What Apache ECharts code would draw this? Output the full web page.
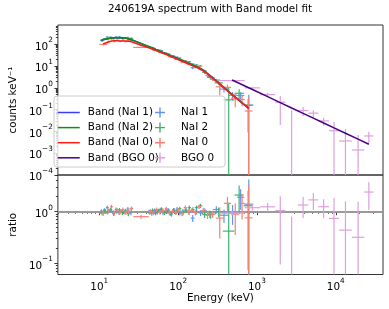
<!DOCTYPE html>
<html><head><meta charset="utf-8">
<script src="https://cdn.jsdelivr.net/npm/echarts@6/dist/echarts.min.js"></script>
<style>html,body{margin:0;padding:0;background:#fff}#c{width:389px;height:309px}</style>
</head><body><div id="c"></div>
<script>
// ---------------- data (energies in keV, counts in counts keV^-1) ----------------
const nai1Lo = [10.2,11.1,12.1,13.2,14.4,15.7,17.1,18.6,20.3,22.1,24.1, 41,44.5,48.3,52.4,56.9,61.8,67.1,72.9,79.2,86,93.4,101,110,120,131,145,162,182,205, 232,275,340,430,560,690];
const nai1Hi = [11.1,12.1,13.2,14.4,15.7,17.1,18.6,20.3,22.1,24.1,26.3, 44.5,48.3,52.4,56.9,61.8,67.1,72.9,79.2,86,93.4,101,110,120,131,145,162,182,205,232, 275,340,430,560,690,900];
const nai1Model = [151,167,180,190,198,199,200,197,193,182,166, 78,69,61.1,54.1,47.8,42.3,37.4,33.1,29.2,25.8,22.8,20.1,17.7,15.4,13.3,11.2,9.3,7.6,5.75, 3.73,2.07,1.03,0.48,0.234,0.115];
const nai1Counts = [154,180,216,200,192,219,190,203,189,204,159, 78,64.2,64.8,53.0,52.6,40.2,38.5,35.7,26.3,27.1,25.5,18.9,18.1,16.6,12.9,8.4,9.3,7.2,5.98, 3.36,2.28,0.88,0.456,0.445,0.161];
const nai1Err = [15,15,20,17,20,20,18,20,19,20,17, 7,6.9,5.5,5.4,4.3,4.2,3.7,3.0,2.9,2.6,2.5,2.0,1.8,1.7,1.5,1.3,1.1,0.9,0.75, 0.56,0.37,0.26,0.19,0.19,0.32];

const nai2Lo = [10.4,11.3,12.3,13.4,14.6,15.9,17.3,18.9,20.6,22.4,24.4, 42,45.5,49.5,54,59,64.5,70.5,77,84,92,100.5,110,120.5,132,146,162,181,203, 232,290,370,520,680];
const nai2Hi = [11.3,12.3,13.4,14.6,15.9,17.3,18.9,20.6,22.4,24.4,26.8, 45.5,49.5,54,59,64.5,70.5,77,84,92,100.5,110,120.5,132,146,162,181,203,232, 290,370,520,680,880];
const nai2Model = [154,169,183,191.5,198,199,200,196.3,192.9,179.6,163, 75.4,66.7,58.7,51.5,45.1,39.5,34.6,30.4,26.6,23.2,20.2,17.6,15.3,13.1,11.2,9.37,7.74,5.82, 3.41,1.69,0.673,0.268,0.122];
const nai2Counts = [146,177,179,211,184,203,216,188,201,165,187, 73.1,70.7,55.2,53.6,50.5,37.9,35.3,28.3,28.7,23.0,23.2,16.7,16.1,15.7,12.3,11.2,10.1,5.12, 3.0,1.69,0.283,0.563,0.159];
const nai2Err = [15,16,18,18,20,19,20,19,19,18,17, 7,6.4,5.5,5,4.3,3.9,3.4,3.0,2.7,2.3,2.1,1.8,1.6,1.5,1.3,1.1,0.95,0.75, 0.5,0.35,0.72,0.3,0.15];

const nai0Lo = [10,12.6,13.7,14.9,16.2,17.6,19.1,20.8,22.6,24.6, 27, 42.5,46.5,51,56,61.5,67.5,74,81,89,97.5,107,117.5,129,142,157,175,196,222, 252,300,380,470,600,700];
const nai0Hi = [12.6,13.7,14.9,16.2,17.6,19.1,20.8,22.6,24.6,27, 42.5, 46.5,51,56,61.5,67.5,74,81,89,97.5,107,117.5,129,142,157,175,196,222,252, 300,380,470,600,700,880];
const nai0Model = [106,128.6,142.4,144.6,143.7,142.8,141.8,140.3,137.3,130, 90, 66.3,58.1,50.8,44.4,38.6,33.6,29.3,25.5,22.2,19.2,16.7,14.4,12.5,10.8,9.15,7.6,6.02,4.3, 2.71,1.49,0.73,0.367,0.202,0.114];
const nai0Counts = [98.6,135,178,137,155,138.5,156,134.7,141.4,149.5, 72, 67.6,55.2,55.9,43.5,40.5,38.6,27.5,26.0,21.5,20.7,15.4,17.3,12.5,11.4,8.8,9.5,6.32,3.66, 2.44,1.12,1.06,0.33,0.293,0.0866];
const nai0Err = [11,13,15,14,15,14,15,14,14,13, 6, 6.5,5.8,5.1,4.4,3.9,3.4,2.9,2.6,2.3,2.0,1.8,1.6,1.4,1.2,1.05,0.9,0.75,0.55, 0.4,0.67,0.35,0.2,0.15,0.29];

const bgoLo = [335,700,1100,1700,2300,3300,4500,6000,8200,11000,16000,23000];
const bgoHi = [700,1100,1700,2300,3300,4500,6000,8200,11000,16000,23000,30000];
const bgoModel = [2.3,0.837,0.394,0.21,0.1196,0.0676,0.0407,0.0244,0.01458,0.00826,0.00442,0.00258];
const bgoCounts = [2.16,1.0,0.49,0.22,-0.03,0.091,0.069,0.0305,0.0108,0.00363,0.00141,0.0062];
const bgoErr = [0.2,0.12,0.1,0.2,0.125,0.04,0.025,0.012,0.016,0.0095,0.0055,0.0034];

const xTickExp = [1,2,3,4];
const y1TickExp = [-4,-3,-2,-1,0,1,2];
const y2TickExp = [-1,0];

// ---------------- settings ----------------
const X_MIN = 0.4753, X_MAX = 4.599;
const Y1_MIN = -4, Y1_MAX = 2.886;
const Y2_MIN = -1.217, Y2_MAX = 0.711;
const FONT = 'DejaVu Sans';
const FS = 10.4;

const lg = v => Math.log10(v);
function minorList(n0, n1, lo, hi) {
  const out = [];
  for (let n = n0; n <= n1; n++) for (let k = 2; k <= 9; k++) {
    const v = lg(k) + n; if (v > lo && v < hi) out.push(v);
  }
  return out;
}
const xMinor = minorList(0, 4, X_MIN, X_MAX);
const y1Minor = minorList(-4, 2, Y1_MIN, Y1_MAX);
const y2Minor = minorList(-2, 0, Y2_MIN, Y2_MAX);

function crossItems(lo, hi, val, err, floor) {
  return lo.map((l, i) => {
    const c = Math.sqrt(l * hi[i]);
    const v = val[i];
    return [lg(c), v > 0 ? lg(v) : floor, l, hi[i], v, err[i]];
  });
}
function ratioItems(lo, hi, counts, err, model, floor) {
  return crossItems(lo, hi, counts.map((c, i) => c / model[i]), err.map((e, i) => e / model[i]), floor);
}
function modelLine(lo, hi, model) {
  return lo.map((l, i) => [lg(Math.sqrt(l * hi[i])), lg(model[i])]);
}
function makeRender(floor) {
  return function (params, api) {
    const cs = params.coordSys;
    const lo = api.value(2), hi = api.value(3), v = api.value(4), e = api.value(5);
    const ly = t => t > 0 ? Math.log10(t) : floor - 5;
    const clampY = y => Math.max(cs.y, Math.min(cs.y + cs.height, y));
    const xc = Math.log10(Math.sqrt(lo * hi));
    const pTop = api.coord([xc, ly(v + e)]);
    const pBot = api.coord([xc, ly(v - e)]);
    const pc = api.coord([xc, ly(v)]);
    const pl = api.coord([Math.log10(lo), ly(v)]);
    const ph = api.coord([Math.log10(hi), ly(v)]);
    const style = { stroke: api.visual('color'), lineWidth: 1.2, fill: null };
    const children = [{ type: 'line', shape: { x1: pc[0], y1: clampY(pTop[1]), x2: pc[0], y2: clampY(pBot[1]) }, style }];
    if (v > 0 && pc[1] >= cs.y && pc[1] <= cs.y + cs.height) {
      children.push({ type: 'line', shape: { x1: Math.max(cs.x, pl[0]), y1: pc[1], x2: Math.min(cs.x + cs.width, ph[0]), y2: pc[1] }, style });
    }
    return { type: 'group', children };
  };
}

const C = {
  nai1: '#6495ED', nai2: '#3CB371', nai0: '#FA8072', bgo: '#DDA0DD',
  m1: '#3b3bff', m2: '#138a13', m0: '#ff1a1a', mb: '#4b0082'
};
const CROSS = 'path://M0,4.3L10,4.3L10,5.7L0,5.7Z M4.3,0L5.7,0L5.7,10L4.3,10Z';

const richLab = {
  b: { fontFamily: FONT, fontSize: FS, color: '#000', lineHeight: 15, verticalAlign: 'bottom' },
  s: { fontFamily: FONT, fontSize: 7.3, color: '#000', lineHeight: 8, verticalAlign: 'top' }
};
const fmtPow = v => '{b|10}{s|' + (v < 0 ? '\u2212' + Math.round(-v) : Math.round(v)) + '}';
const tickStyle = { color: '#222', width: 0.9 };
const nameStyle = { fontFamily: FONT, fontSize: FS, color: '#000' };

function crossSeries(name, color, lo, hi, vals, err) {
  return {
    name, type: 'custom', xAxisIndex: 0, yAxisIndex: 0,
    itemStyle: { color }, renderItem: makeRender(Y1_MIN),
    encode: { x: 0, y: 1 }, data: crossItems(lo, hi, vals, err, Y1_MIN), z: 2, silent: true
  };
}
function ratioSeries(name, color, lo, hi, counts, err, model, extra) {
  return Object.assign({
    name, type: 'custom', xAxisIndex: 1, yAxisIndex: 2,
    itemStyle: { color }, renderItem: makeRender(Y2_MIN),
    encode: { x: 0, y: 1 }, data: ratioItems(lo, hi, counts, err, model, Y2_MIN), z: 2, silent: true
  }, extra || {});
}
function lineSeries(name, color, lo, hi, model) {
  return {
    name, type: 'line', xAxisIndex: 0, yAxisIndex: 0, symbol: 'none',
    lineStyle: { color, width: 1.5 }, itemStyle: { color },
    data: modelLine(lo, hi, model), z: 3, silent: true
  };
}
const unityLine = {
  markLine: { silent: true, symbol: 'none', label: { show: false }, animation: false, z: 1,
    lineStyle: { color: '#999999', width: 1.8, type: 'solid' }, data: [{ yAxis: 0 }] }
};

const option = {
  animation: false,
  textStyle: { fontFamily: FONT },
  title: {
    text: '240619A spectrum with Band model fit', left: 210, top: 4, padding: 0, textAlign: 'center',
    textStyle: { fontFamily: FONT, fontSize: FS, fontWeight: 'normal', color: '#000' }
  },
  grid: [
    { left: 49, top: 25, width: 334, height: 150, show: true, borderColor: '#333', borderWidth: 1, backgroundColor: 'transparent' },
    { left: 49, top: 175, width: 334, height: 99.5, show: true, borderColor: '#333', borderWidth: 1, backgroundColor: 'transparent' }
  ],
  xAxis: [
    { type: 'value', gridIndex: 0, position: 'bottom', min: X_MIN, max: X_MAX, axisLine: { show: false }, splitLine: { show: false }, axisTick: { show: false }, axisLabel: { show: false } },
    { type: 'value', gridIndex: 1, position: 'bottom', min: X_MIN, max: X_MAX, axisLine: { show: false }, splitLine: { show: false },
      axisTick: { show: true, inside: false, length: 3.5, lineStyle: tickStyle, customValues: xTickExp },
      axisLabel: { customValues: xTickExp, formatter: fmtPow, rich: richLab, margin: 3 },
      name: 'Energy (keV)', nameLocation: 'middle', nameGap: 18, nameTextStyle: nameStyle },
    { type: 'value', gridIndex: 1, position: 'bottom', min: X_MIN, max: X_MAX, axisLine: { show: false }, splitLine: { show: false },
      axisTick: { show: true, inside: false, length: 2, lineStyle: tickStyle, customValues: xMinor }, axisLabel: { show: false } }
  ],
  yAxis: [
    { type: 'value', gridIndex: 0, position: 'left', min: Y1_MIN, max: Y1_MAX, axisLine: { show: false }, splitLine: { show: false },
      axisTick: { show: true, inside: false, length: 3.5, lineStyle: tickStyle, customValues: y1TickExp },
      axisLabel: { customValues: y1TickExp, formatter: fmtPow, rich: richLab, margin: 5 },
      name: 'counts keV\u207B\u00B9', nameLocation: 'middle', nameGap: 29, nameTextStyle: nameStyle },
    { type: 'value', gridIndex: 0, position: 'left', min: Y1_MIN, max: Y1_MAX, axisLine: { show: false }, splitLine: { show: false },
      axisTick: { show: true, inside: false, length: 2, lineStyle: tickStyle, customValues: y1Minor }, axisLabel: { show: false } },
    { type: 'value', gridIndex: 1, position: 'left', min: Y2_MIN, max: Y2_MAX, axisLine: { show: false }, splitLine: { show: false },
      axisTick: { show: true, inside: false, length: 3.5, lineStyle: tickStyle, customValues: y2TickExp },
      axisLabel: { customValues: y2TickExp, formatter: fmtPow, rich: richLab, margin: 5 },
      name: 'ratio', nameLocation: 'middle', nameGap: 29, nameTextStyle: nameStyle },
    { type: 'value', gridIndex: 1, position: 'left', min: Y2_MIN, max: Y2_MAX, axisLine: { show: false }, splitLine: { show: false },
      axisTick: { show: true, inside: false, length: 2, lineStyle: tickStyle, customValues: y2Minor }, axisLabel: { show: false } }
  ],
  legend: [
    { data: ['Band (NaI 1)', 'Band (NaI 2)', 'Band (NaI 0)', 'Band (BGO 0)'], orient: 'vertical', left: 57, top: 107.5,
      itemWidth: 22, itemHeight: 10, itemGap: 5.1, padding: 0, selectedMode: false, z: 100,
      itemStyle: { opacity: 0 }, lineStyle: { width: 1.5 },
      textStyle: { fontFamily: FONT, fontSize: FS, color: '#000', padding: [0, 0, 0, 3] } },
    { data: [{ name: 'NaI 1', icon: CROSS }, { name: 'NaI 2', icon: CROSS }, { name: 'NaI 0', icon: CROSS }, { name: 'BGO 0', icon: CROSS }],
      orient: 'vertical', left: 155, top: 107.5, itemWidth: 20, itemHeight: 10, itemGap: 5.1, padding: 0, selectedMode: false, z: 100,
      textStyle: { fontFamily: FONT, fontSize: FS, color: '#000', padding: [0, 0, 0, 6] } }
  ],
  graphic: { elements: [
    { type: 'rect', z: 50, silent: true, shape: { x: 54, y: 96, width: 171, height: 71, r: 3 },
      style: { fill: 'rgba(255,255,255,0.8)', stroke: '#cccccc', lineWidth: 1 } }
  ] },
  series: [
    crossSeries('NaI 1', C.nai1, nai1Lo, nai1Hi, nai1Counts, nai1Err),
    crossSeries('NaI 2', C.nai2, nai2Lo, nai2Hi, nai2Counts, nai2Err),
    crossSeries('NaI 0', C.nai0, nai0Lo, nai0Hi, nai0Counts, nai0Err),
    crossSeries('BGO 0', C.bgo, bgoLo, bgoHi, bgoCounts, bgoErr),
    lineSeries('Band (NaI 1)', C.m1, nai1Lo, nai1Hi, nai1Model),
    lineSeries('Band (NaI 2)', C.m2, nai2Lo, nai2Hi, nai2Model),
    lineSeries('Band (NaI 0)', C.m0, nai0Lo, nai0Hi, nai0Model),
    lineSeries('Band (BGO 0)', C.mb, bgoLo, bgoHi, bgoModel),
    ratioSeries('NaI 1', C.nai1, nai1Lo, nai1Hi, nai1Counts, nai1Err, nai1Model, unityLine),
    ratioSeries('NaI 2', C.nai2, nai2Lo, nai2Hi, nai2Counts, nai2Err, nai2Model),
    ratioSeries('NaI 0', C.nai0, nai0Lo, nai0Hi, nai0Counts, nai0Err, nai0Model),
    ratioSeries('BGO 0', C.bgo, bgoLo, bgoHi, bgoCounts, bgoErr, bgoModel)
  ]
};
const chart = echarts.init(document.getElementById('c'), null, { renderer: 'canvas', devicePixelRatio: 1 });
chart.setOption(option);
</script>
</body></html>
